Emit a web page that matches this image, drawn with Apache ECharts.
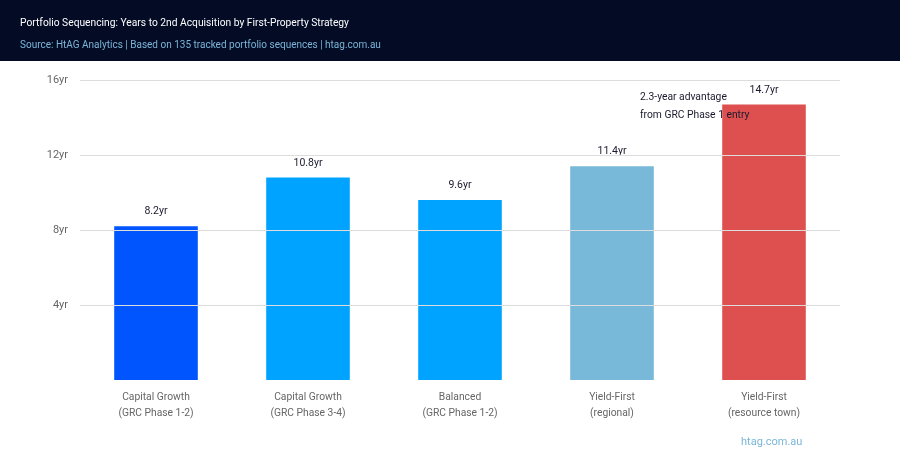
<!DOCTYPE html>
<html><head><meta charset="utf-8">
<script src="https://cdn.jsdelivr.net/npm/echarts@6/dist/echarts.min.js"></script>
<style>html,body{margin:0;padding:0;background:#fff}#c{width:900px;height:460px}</style>
</head><body><div id="c"></div>
<script>
const categories = ['Capital Growth\n(GRC Phase 1-2)', 'Capital Growth\n(GRC Phase 3-4)', 'Balanced\n(GRC Phase 1-2)', 'Yield-First\n(regional)', 'Yield-First\n(resource town)'];
const years = [8.2, 10.8, 9.6, 11.4, 14.7];
const barColors = ['#0055ff', '#00a3ff', '#00a3ff', '#78b8d8', '#de5050'];
const yTicks = [0, 4, 8, 12, 16];
const title = 'Portfolio Sequencing: Years to 2nd Acquisition by First-Property Strategy';
const subtitle = 'Source: HtAG Analytics | Based on 135 tracked portfolio sequences | htag.com.au';
const note = '2.3-year advantage\nfrom GRC Phase 1 entry';

const chart = echarts.init(document.getElementById('c'), null, {renderer: 'canvas'});
const F = 'Roboto, "Liberation Sans", sans-serif';
chart.setOption({
  animation: false,
  textStyle: {fontFamily: F},
  grid: {left: 80, right: 60, top: 80, bottom: 80, containLabel: false},
  xAxis: {
    type: 'category', data: categories,
    axisLine: {show: false}, axisTick: {show: false},
    axisLabel: {color: '#666', fontSize: 10.3, lineHeight: 16, margin: 9, fontFamily: F}
  },
  yAxis: {
    type: 'value', min: yTicks[0], max: yTicks[yTicks.length - 1], interval: 4, z: 3,
    axisLine: {show: false}, axisTick: {show: false},
    axisLabel: {color: '#666', fontSize: 11, margin: 12, fontFamily: F,
      formatter: v => v === 0 ? '' : v + 'yr', verticalAlign: 'middle', padding: [0, 0, 4, 0]},
    splitLine: {showMinLine: false, lineStyle: {color: '#dddddd', width: 1}}
  },
  series: [{
    type: 'bar', barWidth: '55%', z: 2,
    data: years.map((v, i) => ({value: v, itemStyle: {color: barColors[i]}})),
    label: {show: true, position: 'top', distance: 9, color: '#1a1a2e', fontSize: 10.5, fontFamily: F,
      formatter: p => p.value + 'yr'}
  }],
  graphic: [
    {type: 'rect', left: 0, top: 0, shape: {width: 900, height: 61}, style: {fill: '#030b25'}, z: 10},
    {type: 'text', left: 20, top: 18, style: {text: title, fill: '#ffffff', font: '10.25px ' + F}, z: 11},
    {type: 'text', left: 20, top: 40, style: {text: subtitle, fill: '#7ab6d8', font: '10px ' + F}, z: 11},
    {type: 'text', left: 640, top: 89, style: {text: note, fill: '#1a1a2e', font: '10.3px ' + F, lineHeight: 17.5}, z: 11},
    {type: 'text', left: 741, top: 437, style: {text: 'htag.com.au', fill: '#7ab6d8', font: '11px ' + F}, z: 11}
  ]
});
</script></body></html>
